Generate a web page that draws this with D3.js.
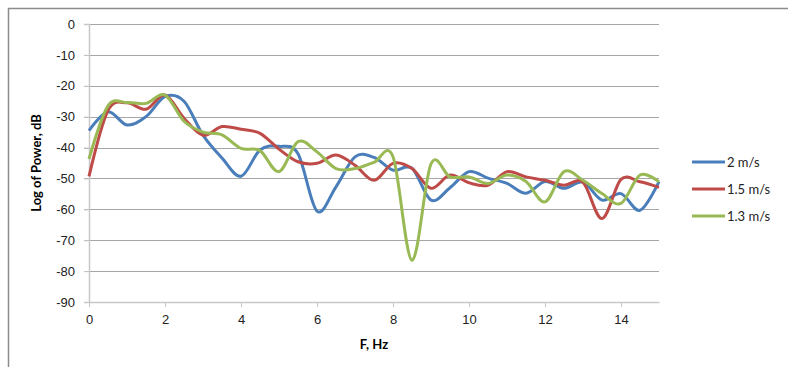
<!DOCTYPE html>
<html>
<head>
<meta charset="utf-8">
<script src="https://cdn.jsdelivr.net/npm/d3@7"></script>
<style>
  body { margin: 0; background: #fff; }
  svg { display: block; font-family: Lato, "Liberation Sans", sans-serif; }
</style>
</head>
<body>
<div id="chart"></div>
<script>
const freqs = [0, 0.5, 1, 1.5, 2, 2.5, 3, 3.5, 4, 4.5, 5, 5.5, 6, 6.5, 7, 7.5,
               8, 8.5, 9, 9.5, 10, 10.5, 11, 11.5, 12, 12.5, 13, 13.5, 14, 14.5, 15];

const speed2 = [-34.5, -28.4, -32.7, -30, -23.5, -25, -36, -43.4, -49.3, -40.8, -39.6, -42,
                -60.6, -52.7, -43, -43.2, -47.3, -46.7, -57, -53, -47.8, -49.9, -51.6, -54.8,
                -51, -53.2, -51.2, -57, -54.9, -60.3, -51];
const speed15 = [-49.3, -28, -25.5, -27.6, -23, -30.5, -36, -33.2, -34.1, -35.4, -40.5, -44.6,
                 -45.1, -42.4, -45.7, -50.6, -45.1, -46.8, -53.2, -48.9, -51.4, -52.2, -47.8, -49.5,
                 -50.6, -52.2, -51.3, -63, -50.3, -51.1, -52.9];
const speed13 = [-43.7, -26.5, -25.4, -25.7, -23, -31.5, -35, -35.9, -40.3, -41, -47.8, -38.1,
                 -41.4, -46.8, -46.8, -44.8, -43, -76.5, -45.3, -49.5, -49.5, -51.6, -48.9, -51,
                 -57.6, -47.8, -50.6, -54.9, -58.1, -48.9, -51.1];

const seriesNames = ["2 m/s", "1.5 m/s", "1.3 m/s"];
const seriesColors = ["#4a7ebb", "#be4b48", "#98b954"];
const xTicks = [0, 2, 4, 6, 8, 10, 12, 14];
const yTicks = [0, -10, -20, -30, -40, -50, -60, -70, -80, -90];

const width = 788;
const height = 367;
const margin = { left: 89, right: 129, top: 24, bottom: 65 };

const svg = d3.select("#chart")
    .append("svg")
    .attr("width", width)
    .attr("height", height);

// chart area border (only top and left are visible in the frame)
svg.append("path")
    .attr("d", "M8.5,368 V8.5 H790")
    .attr("fill", "none")
    .attr("stroke", "#8c8c8c")
    .attr("stroke-width", 1.5);

const x = d3.scaleLinear()
    .domain([0, 15])
    .range([margin.left, width - margin.right]);

const y = d3.scaleLinear()
    .domain([-90, 0])
    .range([height - margin.bottom, margin.top]);

// gridlines
svg.append("g")
    .selectAll("line")
    .data(yTicks.filter(d => d !== -90))
    .enter()
    .append("line")
    .attr("x1", x(0) - 5)
    .attr("x2", x(15))
    .attr("y1", d => Math.round(y(d)) + 0.5)
    .attr("y2", d => Math.round(y(d)) + 0.5)
    .attr("stroke", "#a6a6a6")
    .attr("stroke-width", 1);

// y axis (plain hyphen for the minus sign, like the original)
const yAxis = svg.append("g")
    .attr("transform", `translate(${x(0)},0)`)
    .call(d3.axisLeft(y).tickValues(yTicks).tickSize(5).tickPadding(9).tickFormat(d => String(d)));
yAxis.select(".domain").attr("stroke", "#c8c8c8").attr("stroke-width", 1.5);
yAxis.selectAll(".tick line").attr("stroke", "#c8c8c8");
yAxis.selectAll("text").attr("fill", "#222").style("font-size", "13px");

// x axis
const xAxis = svg.append("g")
    .attr("transform", `translate(0,${y(-90)})`)
    .call(d3.axisBottom(x).tickValues(xTicks).tickSize(5).tickPadding(8).tickSizeOuter(0).tickFormat(d => String(d)));
xAxis.select(".domain").attr("stroke", "#c8c8c8").attr("stroke-width", 1.5);
xAxis.selectAll(".tick line").attr("stroke", "#c8c8c8");
xAxis.selectAll("text").attr("fill", "#222").style("font-size", "13px");

// axis titles
svg.append("text")
    .attr("x", x(7.5))
    .attr("y", 349)
    .attr("text-anchor", "middle")
    .style("font-size", "13px")
    .style("font-weight", "bold")
    .text("F, Hz");

svg.append("text")
    .attr("transform", `translate(41,${y(-45)}) rotate(-90)`)
    .attr("text-anchor", "middle")
    .style("font-size", "13px")
    .style("font-weight", "bold")
    .text("Log of Power, dB");

// lines
const allSeries = [speed2, speed15, speed13];
const line = d3.line()
    .x((d, i) => x(freqs[i]))
    .y(d => y(d))
    .curve(d3.curveCardinal.tension(0));

svg.append("g")
    .selectAll("path")
    .data(allSeries)
    .enter()
    .append("path")
    .attr("d", d => line(d))
    .attr("fill", "none")
    .attr("stroke", (d, i) => seriesColors[i])
    .attr("stroke-width", 3)
    .attr("stroke-linejoin", "round");

// legend
const legend = svg.append("g")
    .attr("transform", "translate(692,162)");

const items = legend.selectAll("g")
    .data(seriesNames)
    .enter()
    .append("g")
    .attr("transform", (d, i) => `translate(0,${i * 27})`);

items.append("line")
    .attr("x1", 0)
    .attr("x2", 33)
    .attr("stroke", (d, i) => seriesColors[i])
    .attr("stroke-width", 3);

items.append("text")
    .attr("x", 35)
    .attr("dy", "0.35em")
    .style("font-size", "13px")
    .attr("fill", "#222")
    .text(d => d);
</script>
</body>
</html>
